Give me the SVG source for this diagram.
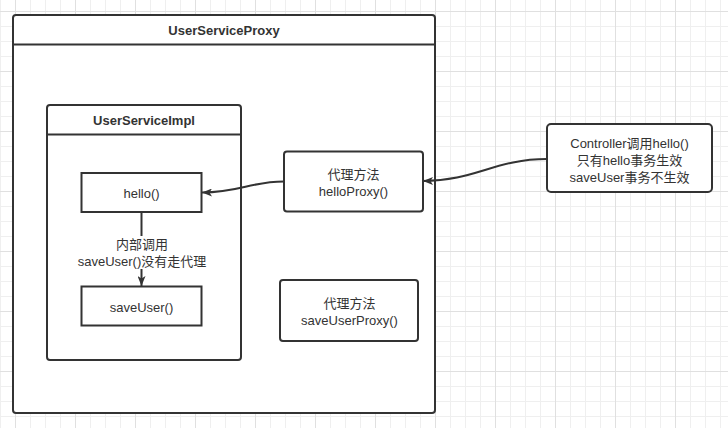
<svg xmlns="http://www.w3.org/2000/svg" width="728" height="428" viewBox="0 0 728 428">
<style>
.box{fill:#fff;stroke:#333;stroke-width:2}
.ln{fill:none;stroke:#333;stroke-width:2}
.t{font-family:"Liberation Sans","Noto Sans CJK SC",sans-serif;font-size:13px;fill:#333;text-anchor:middle}
.b{font-weight:bold;font-size:13px}
</style>
<defs>
<pattern id="grid" patternUnits="userSpaceOnUse" x="15" y="11" width="60" height="60">
<path d="M15.5,0V60M30.5,0V60M45.5,0V60M0,15.5H60M0,30.5H60M0,45.5H60" stroke="#efefef" stroke-width="1" fill="none"/>
<path d="M0.5,0V60M0,0.5H60" stroke="#e0e0e0" stroke-width="1" fill="none"/>
</pattern>
<marker id="arr" markerUnits="userSpaceOnUse" viewBox="0 0 10 8" refX="10" refY="4" markerWidth="10" markerHeight="8" orient="auto">
<path d="M0,0 L10,4 L0,8 L2.5,4 Z" fill="#333"/>
</marker>
</defs>
<rect width="728" height="428" fill="#fff"/>
<rect width="728" height="428" fill="url(#grid)"/>
<g id="UserServiceProxy">
<rect class="box" x="13" y="15" width="422" height="398" rx="3"/>
<path class="ln" d="M13,44.5H435"/>
<text class="t b" x="224" y="35">UserServiceProxy</text>
</g>
<g id="UserServiceImpl">
<rect class="box" x="47" y="105" width="194" height="255" rx="3"/>
<path class="ln" d="M47,134.5H241"/>
<text class="t b" x="144" y="125">UserServiceImpl</text>
</g>
<g id="hello">
<rect class="box" x="81.5" y="173" width="120" height="39"/>
<text class="t" x="141.5" y="198">hello()</text>
</g>
<g id="saveUser">
<rect class="box" x="81.5" y="286.5" width="120" height="39"/>
<text class="t" x="141.5" y="312">saveUser()</text>
</g>
<g id="helloProxy">
<rect class="box" x="284" y="151.5" width="139" height="60" rx="3"/>
<text class="t" x="353.5" y="179">代理方法</text>
<text class="t" x="353.5" y="196">helloProxy()</text>
</g>
<g id="saveUserProxy">
<rect class="box" x="280" y="280" width="138" height="61" rx="3"/>
<text class="t" x="349.5" y="308">代理方法</text>
<text class="t" x="349.5" y="325">saveUserProxy()</text>
</g>
<g id="Controller">
<rect class="box" x="547" y="124" width="165" height="68" rx="4"/>
<text class="t" x="629.5" y="148">Controller调用hello()</text>
<text class="t" x="629.5" y="165">只有hello事务生效</text>
<text class="t" x="629.5" y="182">saveUser事务不生效</text>
</g>
<g id="connectors">
<path class="ln" d="M547,159 C495,159 475,181 423,181" marker-end="url(#arr)"/>
<path class="ln" d="M284,181.5 C250,181.5 240,192.5 202,192.5" marker-end="url(#arr)"/>
<path class="ln" d="M141.5,212 V286" marker-end="url(#arr)"/>
<rect x="74" y="236" width="136" height="33" fill="#fff"/>
<text class="t" x="142" y="249">内部调用</text>
<text class="t" x="142" y="266">saveUser()没有走代理</text>
</g>
</svg>
